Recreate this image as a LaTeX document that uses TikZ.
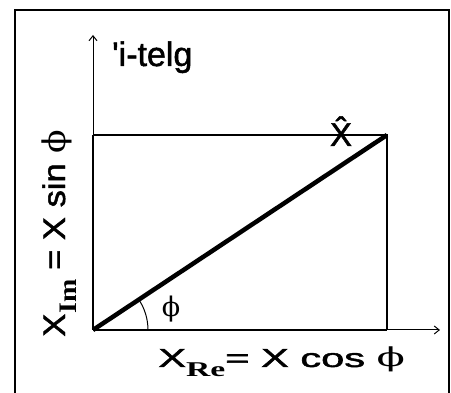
\documentclass[tikz,border=0pt]{standalone}
\usepackage{fontspec}
\setmainfont{Liberation Sans}[FakeBold=1.5]
\newfontfamily\subfont{Liberation Serif}
\newfontfamily\greekfont{DejaVu Serif}
\usetikzlibrary{arrows.meta}

\begin{document}
\begin{tikzpicture}[x=1pt, y=1pt,
  axis/.style={-{Straight Barb[length=5pt, width=8pt]}, line width=1pt},
  side/.style={line width=1.4pt},
  base/.style={line width=2.2pt},
  vector/.style={line width=4.5pt},
  label/.style={inner sep=0pt, font=\fontsize{26}{30}\selectfont}
]
\useasboundingbox (0,0) rectangle (451,393);
\draw[line width=2.5pt] (15,-5) -- (15,383) -- (449,383) -- (449,-5);

\coordinate (O) at (93,63);
\coordinate (ytop) at (93,358);
\coordinate (xend) at (440,63);
\coordinate (ycorner) at (93,258);
\coordinate (xcorner) at (387,63);
\coordinate (P) at (387,258);

\draw[axis] (O) -- (ytop);
\draw[axis] (O) -- (xend);
\draw[base] (O) -- (ycorner);
\draw[base] (O) -- (xcorner);
\draw[side] (ycorner) -- (P) -- (xcorner);
\draw[vector] (O) -- (P);
\draw[line width=1pt] (O) ++(55,0) arc (0:33.6:55);

\node[label, font=\fontsize{34}{38}\selectfont, anchor=base west] (imag) at (112,327) {\textquotesingle i-telg};
\node[label, font=\fontsize{33}{36}\selectfont, anchor=base] (xhat) at (341,247) {\^{X}};
\node[label, font=\greekfont\fontsize{27}{30}\selectfont] (phi) at (171,84) {ϕ};
\node[label, xscale=1.6, anchor=base west] (real) at (158,26) {X\raisebox{-10pt}{\subfont\bfseries\fontsize{21}{24}\selectfont Re}= X cos {\greekfont ϕ}};
\node[label, rotate=90, xscale=1.33, yscale=1.2, anchor=base west] (imagpart) at (65,56) {X\raisebox{-10pt}{\subfont\bfseries\fontsize{21}{24}\selectfont Im} = X sin {\greekfont ϕ}};
\end{tikzpicture}
\end{document}
